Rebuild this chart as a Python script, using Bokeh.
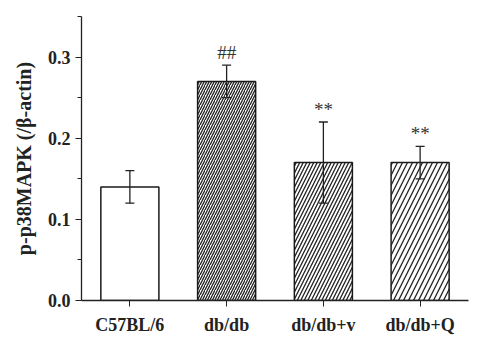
from bokeh.plotting import figure
from bokeh.models import ColumnDataSource, Whisker, FactorRange, Range1d, FixedTicker, TeeHead, NumeralTickFormatter
from bokeh.core.properties import value
from bokeh.embed import file_html
from bokeh.resources import INLINE

groups = ["C57BL/6", "db/db", "db/db+v", "db/db+Q"]
means = [0.14, 0.27, 0.17, 0.17]
errors = [0.02, 0.02, 0.05, 0.02]
marks = ["", "##", "**", "**"]
hatch_scales = [0, 5.0, 7.0, 10.0]
hatch_patterns = [" ", "/", "/", "/"]
y_ticks = [0.0, 0.1, 0.2, 0.3]

upper = [m + e for m, e in zip(means, errors)]
lower = [m - e for m, e in zip(means, errors)]

src = ColumnDataSource(dict(x=groups, top=means, upper=upper, lower=lower,
                            hp=hatch_patterns, hs=hatch_scales,
                            mark=marks, my=[u + 0.003 for u in upper]))

p = figure(x_range=FactorRange(*groups, range_padding=0.0), y_range=Range1d(0, 0.35),
           width=484, height=345, output_backend="svg", toolbar_location=None,
           min_border_left=81, min_border_right=16, min_border_top=16, min_border_bottom=45)
p.x_range.factor_padding = 0
p.outline_line_color = None
p.grid.visible = False

p.vbar(x="x", top="top", width=0.6, source=src, fill_color="white",
       line_color="#1a1a1a", line_width=1.5, hatch_pattern="hp", hatch_scale="hs",
       hatch_color="#222222", hatch_weight=1.3)

w = Whisker(base="x", upper="upper", lower="lower", source=src, line_color="#222222",
            line_width=1.3, level="overlay")
w.upper_head = TeeHead(size=9, line_color="#222222", line_width=1.3)
w.lower_head = TeeHead(size=9, line_color="#222222", line_width=1.3)
p.add_layout(w)

p.text(x="x", y="my", text="mark", source=src, text_align="center", text_baseline="bottom",
       text_font=value("Liberation Serif"), text_font_size="19px", text_color="#333333")

p.yaxis.ticker = FixedTicker(ticks=y_ticks, minor_ticks=[0.05, 0.15, 0.25, 0.35])
p.yaxis.formatter = NumeralTickFormatter(format="0.0")
p.yaxis.axis_label = "p-p38MAPK (/β-actin)"
for ax in (p.xaxis, p.yaxis):
    ax.axis_line_color = "#222222"
    ax.axis_line_width = 1.3
    ax.major_tick_line_color = "#222222"
    ax.minor_tick_line_color = "#222222"
    ax.major_tick_out = 6
    ax.major_tick_in = 0
    ax.minor_tick_out = 4
    ax.minor_tick_in = 0
    ax.major_label_text_font = "Liberation Serif"
    ax.major_label_text_font_style = "bold"
    ax.major_label_text_font_size = "18px"
    ax.major_label_text_color = "#222222"
p.yaxis.axis_label_text_font = "Liberation Serif"
p.yaxis.axis_label_text_font_style = "bold"
p.yaxis.axis_label_text_font_size = "20px"
p.yaxis.axis_label_text_color = "#222222"
p.yaxis.axis_label_standoff = 10
p.yaxis.major_label_standoff = 5
p.xaxis.major_label_standoff = 8

open("out.html", "w").write(file_html(p, INLINE))
